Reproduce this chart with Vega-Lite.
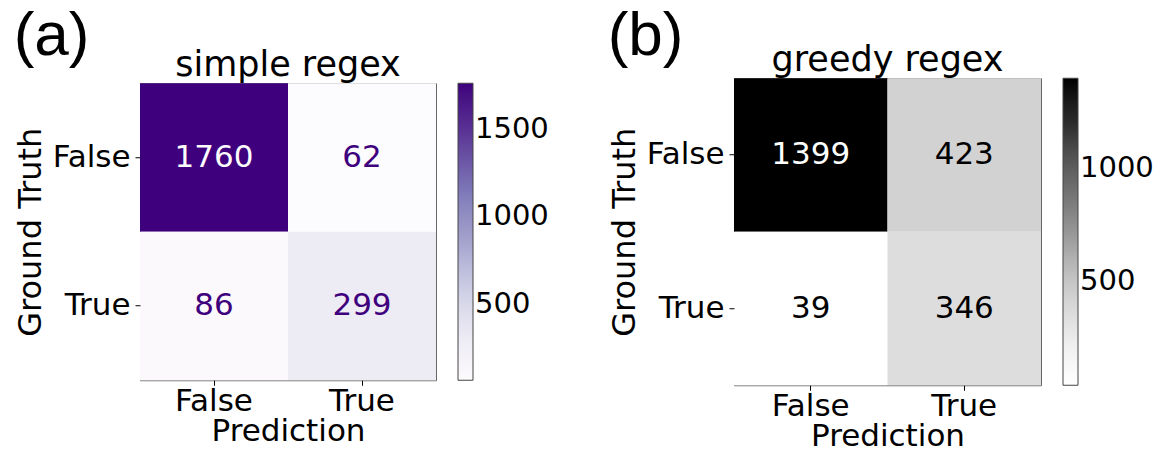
{
  "$schema": "https://vega.github.io/schema/vega-lite/v6.json",
  "padding": {"left": 13, "top": 4, "right": 2, "bottom": 0},
  "background": "white",
  "center": true,
  "config": {
    "font": "DejaVu Sans",
    "view": {"stroke": "#666666", "strokeWidth": 1},
    "axis": {
      "labelFontSize": 31, "titleFontSize": 32, "labelColor": "black", "titleColor": "black",
      "domain": false, "grid": false, "tickColor": "black", "tickSize": 5, "labelPadding": 5,
      "titleFontWeight": "normal", "labelFont": "DejaVu Sans", "titleFont": "DejaVu Sans", "titlePadding": 5
    },
    "axisX": {"labelPadding": 1, "titlePadding": 0, "titleFontSize": 31},
    "legend": {
      "gradientThickness": 15, "offset": 21, "labelFontSize": 29, "labelOffset": 10,
      "gradientStrokeColor": "#444444", "gradientStrokeWidth": 1, "labelColor": "black",
      "direction": "vertical", "labelFont": "DejaVu Sans", "padding": 0
    },
    "title": {"fontWeight": "normal", "color": "black", "font": "DejaVu Sans"},
    "concat": {"spacing": 58}
  },
  "data": {
    "values": [
      {"model": "simple regex", "truth": "False", "pred": "False", "count": 1760},
      {"model": "simple regex", "truth": "False", "pred": "True", "count": 62},
      {"model": "simple regex", "truth": "True", "pred": "False", "count": 86},
      {"model": "simple regex", "truth": "True", "pred": "True", "count": 299},
      {"model": "greedy regex", "truth": "False", "pred": "False", "count": 1399},
      {"model": "greedy regex", "truth": "False", "pred": "True", "count": 423},
      {"model": "greedy regex", "truth": "True", "pred": "False", "count": 39},
      {"model": "greedy regex", "truth": "True", "pred": "True", "count": 346}
    ]
  },
  "hconcat": [
    {
      "title": {"text": "(a)", "anchor": "start", "font": "Liberation Sans", "fontSize": 62, "offset": -20},
      "vconcat": [
        {
          "transform": [{"filter": "datum.model === 'simple regex'"}],
          "title": {"text": "simple regex", "fontSize": 35, "offset": 0},
          "width": 296, "height": 297,
          "encoding": {
            "x": {"field": "pred", "type": "nominal", "sort": ["False", "True"], "title": "Prediction", "axis": {"labelAngle": 0}},
            "y": {"field": "truth", "type": "nominal", "sort": ["False", "True"], "title": "Ground Truth"}
          },
          "layer": [
            {
              "mark": "rect",
              "encoding": {
                "color": {"field": "count", "type": "quantitative",
                  "scale": {
                    "domain": [62, 274.25, 486.5, 698.75, 911, 1123.25, 1335.5, 1547.75, 1760],
                    "range": ["#fcfbfd", "#efedf5", "#dadaeb", "#bcbddc", "#9e9ac8", "#807dba", "#6a51a3", "#54278f", "#3f007d"]
                  },
                  "legend": {"title": null, "values": [500, 1000, 1500], "format": "d", "gradientLength": 297}}
              }
            },
            {
              "mark": {"type": "text", "fontSize": 31},
              "encoding": {
                "text": {"field": "count", "type": "quantitative"},
                "color": {"condition": {"test": "datum.count > 911", "value": "#fcfbfd"}, "value": "#3f007d"}
              }
            }
          ]
        }
      ]
    },
    {
      "title": {"text": "(b)", "anchor": "start", "font": "Liberation Sans", "fontSize": 62, "offset": -25},
      "vconcat": [
        {
          "transform": [{"filter": "datum.model === 'greedy regex'"}],
          "title": {"text": "greedy regex", "fontSize": 35, "offset": 0},
          "width": 307, "height": 307,
          "encoding": {
            "x": {"field": "pred", "type": "nominal", "sort": ["False", "True"], "title": "Prediction", "axis": {"labelAngle": 0}},
            "y": {"field": "truth", "type": "nominal", "sort": ["False", "True"], "title": "Ground Truth"}
          },
          "layer": [
            {
              "mark": "rect",
              "encoding": {
                "color": {"field": "count", "type": "quantitative",
                  "scale": {
                    "domain": [39, 209, 379, 549, 719, 889, 1059, 1229, 1399],
                    "range": ["#ffffff", "#f0f0f0", "#d9d9d9", "#bdbdbd", "#969696", "#737373", "#525252", "#252525", "#000000"]
                  },
                  "legend": {"title": null, "values": [500, 1000], "format": "d", "gradientLength": 307}}
              }
            },
            {
              "mark": {"type": "text", "fontSize": 31},
              "encoding": {
                "text": {"field": "count", "type": "quantitative"},
                "color": {"condition": {"test": "datum.count > 719", "value": "#ffffff"}, "value": "#000000"}
              }
            }
          ]
        }
      ]
    }
  ],
  "resolve": {"scale": {"color": "independent"}, "legend": {"color": "independent"}}
}
